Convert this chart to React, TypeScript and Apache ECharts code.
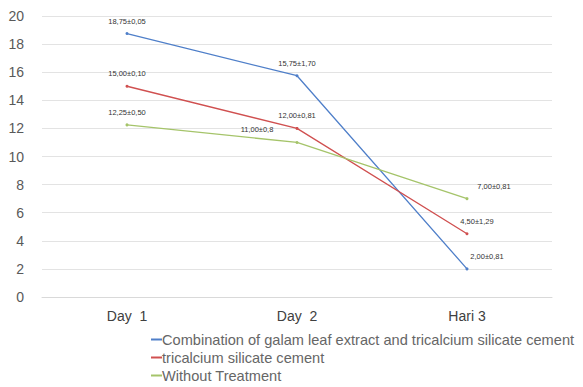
import React, { useEffect, useRef } from "react";
import * as echarts from "echarts";

const categories = ["Day  1", "Day  2", "Hari 3"];
const seriesNames = [
  "Combination of galam leaf extract and tricalcium silicate cement",
  "tricalcium silicate cement",
  "Without Treatment",
];
const combinationValues = [18.75, 15.75, 2];
const tricalciumValues = [15, 12, 4.5];
const withoutValues = [12.25, 11, 7];
const combinationLabels = ["18,75±0,05", "15,75±1,70", "2,00±0,81"];
const tricalciumLabels = ["15,00±0,10", "12,00±0,81", "4,50±1,29"];
const withoutLabels = ["12,25±0,50", "11,00±0,8", "7,00±0,81"];
const yTicks = [0, 20, 2];

const colors = ["#4f7fc9", "#d05050", "#a5c46a"];

export default function App() {
  const ref = useRef<HTMLDivElement>(null);
  useEffect(() => {
    if (!ref.current) return;
    const chart = echarts.init(ref.current, undefined, { renderer: "svg" });
    const mk = (vals: number[], labels: string[], offsets: number[][]) =>
      vals.map((v, i) => ({
        value: v,
        label: {
          show: true,
          formatter: labels[i],
          position: "top",
          offset: offsets[i],
        },
      }));
    const seriesData = [
      mk(combinationValues, combinationLabels, [[0, -2], [0, -2], [20, -2]]),
      mk(tricalciumValues, tricalciumLabels, [[0, -2], [0, -2], [10, -2]]),
      mk(withoutValues, withoutLabels, [[0, -2], [-40, -2], [27, -2]]),
    ];
    chart.setOption({
      animation: false,
      textStyle: { fontFamily: "Liberation Sans, Arial, sans-serif" },
      grid: { left: 42, right: 31, top: 16, bottom: 90, containLabel: false },
      legend: {
        orient: "vertical",
        left: 151,
        top: 332,
        width: 430,
        height: 60,
        padding: 0,
        itemGap: 3,
        itemWidth: 11,
        itemHeight: 2,
        icon: "rect",
        textStyle: { fontSize: 14.6, color: "#666", padding: [0, 0, 0, -5] },
        data: seriesNames,
      },
      xAxis: {
        type: "category",
        data: categories,
        axisLine: { lineStyle: { color: "#d9d9d9" } },
        axisTick: { show: false },
        axisLabel: { color: "#404040", fontSize: 14, margin: 12 },
      },
      yAxis: {
        type: "value",
        min: yTicks[0],
        max: yTicks[1],
        interval: yTicks[2],
        axisLine: { show: false },
        axisTick: { show: false },
        splitLine: { lineStyle: { color: "#e3e3e3" } },
        axisLabel: { color: "#595959", fontSize: 14, margin: 18 },
      },
      series: seriesNames.map((name, i) => ({
        name,
        type: "line",
        data: seriesData[i],
        color: colors[i],
        symbol: "circle",
        symbolSize: 3,
        lineStyle: { width: 1.3, color: colors[i] },
        label: { fontSize: 7.5, color: "#333" },
      })),
    });
    return () => chart.dispose();
  }, []);
  return <div ref={ref} style={{ width: 583, height: 387, position: "absolute", left: 0, top: 0 }} />;
}
